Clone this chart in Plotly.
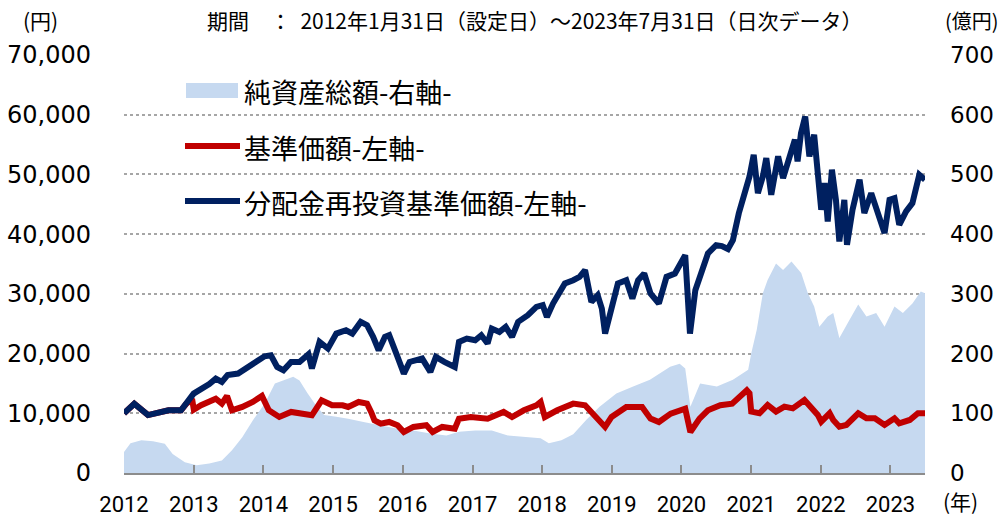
import plotly.graph_objects as go

# ---------------- data ----------------
blue_dates = ["2012-01-31","2012-03-25","2012-06-05","2012-09-20","2012-11-25","2012-12-20","2013-01-30",
"2013-04-22","2013-05-26","2013-06-27","2013-07-27","2013-09-20","2013-11-03","2013-12-17",
"2014-02-06","2014-03-11","2014-04-13","2014-05-16","2014-06-25","2014-08-08","2014-09-24","2014-10-12","2014-11-21",
"2015-01-04","2015-02-17","2015-04-09","2015-05-12","2015-06-25","2015-07-28","2015-08-29","2015-09-27","2015-10-30","2015-11-21",
"2016-01-04","2016-02-06","2016-03-07","2016-05-12","2016-06-24","2016-07-23","2016-09-05","2016-10-30","2016-11-21",
"2017-01-01","2017-02-14","2017-03-18","2017-04-20","2017-05-12","2017-06-21","2017-07-24","2017-08-26","2017-09-27","2017-11-17",
"2018-01-01","2018-02-03","2018-02-25","2018-03-29","2018-04-27","2018-05-30","2018-07-13","2018-08-15","2018-09-13","2018-10-16","2018-11-18","2018-12-10","2018-12-27",
"2019-01-30","2019-03-04","2019-04-17","2019-05-19","2019-06-18","2019-07-20","2019-08-22","2019-10-05","2019-11-14","2019-12-28",
"2020-02-20","2020-03-16","2020-04-13","2020-05-16","2020-06-18","2020-07-31","2020-08-30","2020-10-01","2020-10-27","2020-11-27","2020-12-27",
"2021-01-22","2021-02-13","2021-03-07","2021-04-02","2021-04-20","2021-05-16","2021-06-21","2021-07-17","2021-08-22","2021-09-17","2021-10-01","2021-10-19","2021-11-10","2021-12-02","2021-12-27",
"2022-01-15","2022-02-02","2022-02-20","2022-03-08","2022-03-30","2022-04-20","2022-05-08","2022-06-03","2022-06-17","2022-07-16","2022-08-22","2022-09-16","2022-10-22","2022-11-17","2022-12-31",
"2023-01-26","2023-02-21","2023-03-18","2023-04-23","2023-05-26","2023-07-01","2023-07-31"]
blue_values = [10000,11600,9700,10500,10500,11500,13300,
14900,15800,15250,16400,16650,17500,18300,
19550,19700,17760,17200,18600,18600,19900,17500,21960,
20840,23350,23900,23350,25300,24750,22800,20560,22800,23070,
19440,16650,18600,19160,16930,19440,18600,17760,21960,
22510,22230,23070,21680,24190,23630,24470,22790,25310,26420,
27820,28100,26140,28380,29780,31730,32290,32850,33970,28660,29780,27540,23350,
27260,31730,32290,29220,32290,33410,30060,28380,32850,33410,
36480,23350,30610,33410,36760,38160,38000,37500,39000,43500,47000,
49660,53290,46870,49660,52740,46590,53020,49380,52740,55810,52180,56930,59700,53020,56650,
51340,44080,48550,42120,50780,45750,38770,45750,38210,44080,49100,43520,46870,44080,40170,
45750,46030,41560,43800,45190,49940,49100]

red_dates = ["2012-01-31","2012-03-25","2012-06-05","2012-09-20","2012-11-25","2012-12-20","2013-01-22","2013-01-31",
"2013-03-10","2013-05-26","2013-06-27","2013-07-24","2013-08-19","2013-10-12","2013-12-06",
"2014-01-23","2014-02-28","2014-04-24","2014-06-25","2014-08-19","2014-10-12","2014-12-02",
"2015-01-26","2015-03-22","2015-04-20","2015-06-14","2015-07-28","2015-08-19","2015-09-05","2015-10-08","2015-11-21",
"2016-01-04","2016-02-06","2016-03-27","2016-06-03","2016-07-06","2016-08-25","2016-10-30","2016-11-21",
"2017-01-22","2017-04-20","2017-07-13","2017-08-26","2017-10-27",
"2018-01-01","2018-01-23","2018-02-14","2018-04-20","2018-07-13","2018-09-13","2018-10-27","2018-12-27",
"2019-01-30","2019-04-17","2019-07-09","2019-08-22","2019-10-05","2019-12-06",
"2020-02-20","2020-03-18","2020-05-05","2020-06-18","2020-08-22","2020-10-23",
"2021-01-08","2021-01-22","2021-01-31","2021-03-15","2021-04-27","2021-06-10","2021-07-24","2021-09-06","2021-11-06","2021-12-09",
"2022-01-15","2022-02-02","2022-03-18","2022-04-06","2022-05-08","2022-06-14","2022-07-09","2022-08-15","2022-09-27","2022-11-10","2022-12-31",
"2023-02-21","2023-03-18","2023-05-12","2023-06-24","2023-07-31"]
red_values = [10000,11600,9700,10500,10500,11500,12400,10600,
11340,12450,11620,12900,10500,11060,11900,
12900,10500,9380,10220,9940,9660,12180,
11340,11340,11060,11900,11620,10200,8800,8270,8550,
7990,6870,7710,7990,6870,7710,7430,9100,
9380,9100,10220,9380,10500,
11340,11900,9380,10500,11620,11340,9660,7710,
9380,11060,11060,9100,8540,9940,
10780,6870,9100,10500,11340,11620,
13850,13350,10280,10000,11390,10280,11110,10830,12230,11110,
9720,8600,10000,8880,7760,8040,8880,10000,9160,9160,8040,
9160,8320,8880,10000,10000]

area_dates = ["2012-01-31","2012-03-05","2012-05-01","2012-07-01","2012-09-01","2012-10-12","2012-12-15",
"2013-02-15","2013-04-22","2013-06-27","2013-08-19","2013-10-12","2013-12-06",
"2014-02-06","2014-04-01","2014-05-16","2014-07-06","2014-08-08","2014-09-20","2014-11-03","2014-12-15",
"2015-02-17","2015-04-20","2015-07-16","2015-10-08",
"2016-01-04","2016-03-27","2016-06-24","2016-09-16","2016-11-21",
"2017-02-14","2017-05-12","2017-08-04","2017-10-27",
"2018-01-23","2018-03-07","2018-05-12","2018-07-13","2018-09-20","2018-11-28",
"2019-02-24","2019-05-23","2019-08-19","2019-12-03",
"2020-01-22","2020-02-20","2020-03-18","2020-05-08","2020-08-04","2020-10-27",
"2021-01-15","2021-01-31","2021-03-01","2021-04-02","2021-04-27","2021-06-10","2021-07-17","2021-08-30","2021-10-20","2021-11-24","2021-12-27",
"2022-01-23","2022-03-08","2022-04-06","2022-05-08","2022-06-21","2022-08-15","2022-09-27","2022-11-17","2022-12-31",
"2023-02-21","2023-04-06","2023-05-26","2023-07-09","2023-07-31"]
area_values = [35,50,55,53,49,32,18,
13,16,21,38,60,88,
116,150,155,161,155,133,113,97,
94,91,85,80,
74,71,66,63,69,
71,71,63,60,
58,50,55,65,89,111,
133,145,156,178,
183,175,111,150,145,156,
173,200,240,301,323,351,340,354,335,301,279,
245,262,268,226,251,282,262,268,245,
279,268,284,304,301]

year_ticks = ["2012-01-31","2013-01-31","2014-01-31","2015-01-31","2016-01-31","2017-01-31",
              "2018-01-31","2019-01-31","2020-01-31","2021-01-31","2022-01-31","2023-01-31"]
year_labels = ["2012","2013","2014","2015","2016","2017","2018","2019","2020","2021","2022","2023"]

names = ["純資産総額-右軸-", "基準価額-左軸-", "分配金再投資基準価額-左軸-"]
AREA_C = "#c6d9f0"
RED_C = "#c00000"
NAVY_C = "#002060"

# ---------------- figure ----------------
L, R, T, B = 124, 925, 55, 473
W, H = 1002, 516

def fx(x):
    return (x - L) / (R - L)

def fy(y):
    return (B - y) / (B - T)

fig = go.Figure()
fig.add_trace(go.Scatter(x=area_dates, y=area_values, mode="lines", fill="tozeroy",
                         fillcolor=AREA_C, line=dict(width=0, color=AREA_C),
                         yaxis="y", name=names[0], showlegend=False))
fig.add_trace(go.Scatter(x=red_dates, y=red_values, mode="lines",
                         line=dict(width=6, color=RED_C),
                         yaxis="y2", name=names[1], showlegend=False))
fig.add_trace(go.Scatter(x=blue_dates, y=blue_values, mode="lines",
                         line=dict(width=6, color=NAVY_C),
                         yaxis="y2", name=names[2], showlegend=False))

jp = "Noto Sans CJK JP"
num = "DejaVu Sans"

fig.update_layout(
    width=W, height=H,
    margin=dict(l=L, r=W - R, t=T, b=H - B, pad=0, autoexpand=False),
    plot_bgcolor="white", paper_bgcolor="white",
    font=dict(family=jp, color="#000000"),
    xaxis=dict(type="date", range=["2012-01-31", "2023-07-31"],
               tickvals=year_ticks, ticktext=year_labels,
               tickfont=dict(family="Roboto", size=22, color="#000"),
               showgrid=False, zeroline=False, automargin=False,
               showline=True, linecolor="#8c8c8c", linewidth=2,
               ticks="inside", ticklen=8, tickwidth=2, tickcolor="#8c8c8c",
               ticklabelstandoff=11),
    yaxis=dict(side="right", range=[0, 700], tickvals=[0,100,200,300,400,500,600,700],
               tickfont=dict(family=num, size=23, color="#000"),
               showgrid=True, gridcolor="#a6a6a6", griddash="dot", gridwidth=1.5,
               zeroline=False, showline=False, ticks="", ticklabelstandoff=24,
               automargin=False),
    yaxis2=dict(side="left", overlaying="y", range=[0, 70000],
                tickvals=[0,10000,20000,30000,40000,50000,60000,70000],
                tickformat=",d",
                tickfont=dict(family=num, size=24, color="#000"),
                showgrid=False, zeroline=False, showline=False, ticks="",
                ticklabelstandoff=32, automargin=False),
)

shapes = []
# legend swatches
shapes.append(dict(type="rect", xref="paper", yref="paper",
                   x0=fx(186), x1=fx(238), y0=fy(98), y1=fy(83),
                   fillcolor=AREA_C, line=dict(width=0), layer="above"))
shapes.append(dict(type="line", xref="paper", yref="paper",
                   x0=fx(185), x1=fx(240), y0=fy(146), y1=fy(146),
                   line=dict(color=RED_C, width=6), layer="above"))
shapes.append(dict(type="line", xref="paper", yref="paper",
                   x0=fx(185), x1=fx(240), y0=fy(201), y1=fy(201),
                   line=dict(color=NAVY_C, width=6), layer="above"))
fig.update_layout(shapes=shapes)

ann = []
for txt, yy in zip(names, [92, 147, 202]):
    ann.append(dict(text=txt, xref="paper", yref="paper", x=fx(242), y=fy(yy),
                    xanchor="left", yanchor="middle", showarrow=False,
                    font=dict(family=jp, size=27, color="#000")))
ann.append(dict(text="(円)", xref="paper", yref="paper", x=fx(40), y=fy(20),
                xanchor="center", yanchor="middle", showarrow=False,
                font=dict(family=jp, size=21, color="#000")))
ann.append(dict(text="(億円)", xref="paper", yref="paper", x=fx(972), y=fy(20),
                xanchor="center", yanchor="middle", showarrow=False,
                font=dict(family=jp, size=20, color="#000")))
ann.append(dict(text="期間　：  2012年1月31日（設定日）～2023年7月31日（日次データ）",
                xref="paper", yref="paper", x=fx(535), y=fy(20),
                xanchor="center", yanchor="middle", showarrow=False,
                font=dict(family=jp, size=21, color="#000")))
ann.append(dict(text="(年)", xref="paper", yref="paper", x=fx(960), y=fy(501),
                xanchor="center", yanchor="middle", showarrow=False,
                font=dict(family=jp, size=21, color="#000")))
fig.update_layout(annotations=ann)

fig.write_html("out.html", config={"displayModeBar": False},
               post_script="document.body.style.margin='0';document.body.style.overflow='hidden';")
